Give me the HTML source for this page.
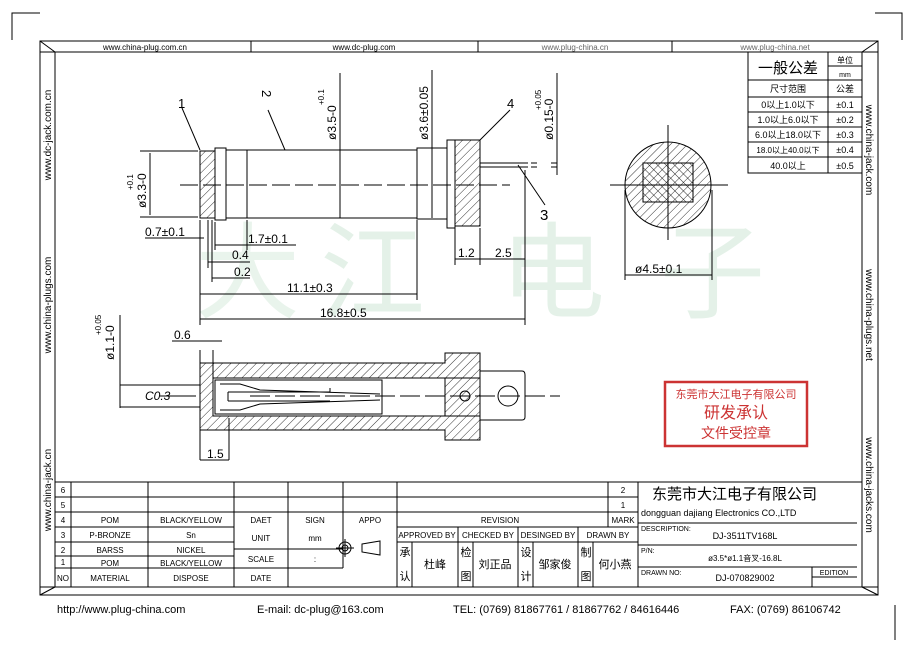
<!DOCTYPE html>
<html><head><meta charset="utf-8"><style>
html,body{margin:0;padding:0;background:#fff;}
svg{display:block;}
text{font-family:"Liberation Sans","Noto Sans CJK SC",sans-serif;fill:#000;}
.m{font-family:"Liberation Mono","Noto Sans CJK SC",monospace;}
</style></head><body>
<svg width="914" height="647" viewBox="0 0 914 647" xmlns="http://www.w3.org/2000/svg">
<defs>
<pattern id="h" width="6" height="6" patternUnits="userSpaceOnUse" patternTransform="rotate(45)">
<line x1="0" y1="0" x2="0" y2="6" stroke="#000" stroke-width="0.8"/></pattern>
<pattern id="x" width="6" height="6" patternUnits="userSpaceOnUse" patternTransform="rotate(-45)">
<line x1="0" y1="0" x2="0" y2="6" stroke="#000" stroke-width="0.8"/></pattern>
</defs>
<!-- watermark -->
<g font-size="105" style="font-family:'Noto Serif CJK SC',serif">
<text x="195" y="310" style="fill:#e9f4ec">大</text><text x="320" y="310" style="fill:#e4f1e8">江</text>
<text x="500" y="310" style="fill:#e4f1e8">电</text><text x="660" y="310" style="fill:#e4f1e8">子</text></g>
<g stroke="#000" fill="none" stroke-width="1">
<!-- corner marks -->
<path d="M12 40 V13 H40 M875 13 H902 V40 M895 605 V640"/>
<!-- frame -->
<rect x="40" y="41" width="838" height="554"/>
<path d="M40 52 H878 M55 52 V587 M862 52 V587 M40 587 H878"/>
<path d="M40 41 L55 52 M878 41 L862 52 M40 595 L55 587 M878 595 L862 587"/>
<path d="M251 41 V52 M478 41 V52 M672 41 V52"/>
<!-- tolerance table -->
<path d="M748 52 V173 H862 M748 80 H862 M828 52 V173 M828 66 H862 M748 97 H862 M748 112 H862 M748 127 H862 M748 142 H862 M748 157 H862"/>
<!-- title block -->
<path d="M55 482 H862 M55 497 H638 M55 512 H638 M55 527 H234 M397 527 H638 M55 542 H234 M55 556 H234 M55 568 H343 M234 549 H343"/>
<path d="M71 482 V587 M148 482 V587 M234 482 V587 M288 482 V527 M343 482 V527 M397 482 V587 M608 482 V527 M638 482 V587"/>
<path d="M288 527 V587 M343 527 V568 M412 542 V587 M458 527 V587 M473 542 V587 M518 527 V587 M533 542 V587 M578 527 V587 M593 542 V587 M397 542 H638"/>
<path d="M638 523 H857 M638 545 H857 M638 567 H857 M812 567 V587 M812 577 H857"/>
<circle cx="345" cy="548" r="6"/><circle cx="345" cy="548" r="3"/><path d="M336 548 H354 M345 539 V557 M362 544 L380 541 V555 L362 552 Z"/>
<!-- top view -->
<path d="M180 185 H510" stroke-dasharray="18 5"/>
<rect x="200" y="151" width="15" height="67" fill="url(#h)"/>
<rect x="215" y="148" width="11" height="72"/>
<path d="M226 150 L247 150 M226 218 L247 218 M247 150 V218 M226 150 V218"/>
<rect x="247" y="150" width="170" height="68"/>
<rect x="417" y="148" width="30" height="71"/>
<rect x="447" y="140" width="8" height="88"/>
<rect x="455" y="140" width="25" height="86" fill="url(#h)"/>
<path d="M480 163 H528 M480 167 H528 M531 163 H537 M531 167 H537"/>
<!-- top dims -->
<path d="M150 153 V215 M140 151 H198 M140 217 H198 M340 73 V218 M432 70 V218 M557 73 V175 M551 163 H557 M551 167 H557"/>
<path d="M182 108 L200 150 M268 110 L285 150 M510 110 L480 140 M518 165 L545 205"/>
<path d="M200 220 V325 M208 220 V268 M212 220 V282 M215 222 V250 M247 220 V250 M417 220 V300 M455 228 V265 M480 228 V265 M525 170 V325"/>
<path d="M145 238 H204 M215 245 H296 M208 262 H250 M212 278 H250 M200 294 H417 M200 319 H525 M455 259 H525"/>
<!-- circle section -->
<circle cx="668" cy="185" r="43" fill="url(#h)"/>
<rect x="643" y="163" width="50" height="39" fill="#fff"/>
<rect x="643" y="163" width="50" height="39" fill="url(#x)"/>
<rect x="643" y="163" width="50" height="39" fill="url(#h)"/>
<path d="M668 125 V240 M610 185 H728 M625 190 V280 M712 190 V280 M625 275 H712"/>
<!-- bottom view -->
<path d="M120 315 V408 M120 385 H200 M120 407 H200 M172 341 H222 M200 350 V460 M213 350 V380 M200 460 H229 M229 418 V460 M196 396 L160 396"/>
<path d="M200 363 H445 V353 H480 V440 H445 V430 H200 Z" fill="url(#h)"/>
<rect x="213" y="378" width="232" height="38" fill="#fff"/>
<path d="M445 378 H480 M445 416 H480"/>
<path d="M213 378 H445 M213 416 H445" />
<rect x="215" y="380" width="167" height="34"/>
<path d="M220 384 L240 384 L260 390 L380 394 M220 410 L240 410 L260 404 L380 400 M228 392 H330 L330 388 M228 401 H330 M228 392 V401"/>
<path d="M480 371 H522 Q525 371 525 375 V417 Q525 420 522 420 H480"/>
<circle cx="508" cy="396" r="10"/><circle cx="465" cy="396" r="5"/>
<path d="M250 396 H560" stroke-dasharray="20 5"/>
</g>
<!-- stamp -->
<rect x="665" y="382" width="142" height="64" fill="none" stroke="#c33" stroke-width="2.5"/>
<g style="font-family:'Noto Serif CJK SC',serif" text-anchor="middle">
<text x="736" y="398" font-size="11" style="fill:#c33">东莞市大江电子有限公司</text>
<text x="736" y="418" font-size="16" style="fill:#c33">研发承认</text>
<text x="736" y="438" font-size="14" style="fill:#c33">文件受控章</text></g>
<!-- top strip texts -->
<g class="m" font-size="8" text-anchor="middle">
<text x="145" y="50">www.china-plug.com.cn</text><text x="364" y="50">www.dc-plug.com</text>
<text x="575" y="50" style="fill:#666">www.plug-china.cn</text><text x="775" y="50" style="fill:#666">www.plug-china.net</text></g>
<!-- side texts -->
<g font-size="10" text-anchor="middle">
<text transform="translate(51,135) rotate(-90)">www.dc-jack.com.cn</text>
<text transform="translate(51,305) rotate(-90)">www.china-plugs.com</text>
<text transform="translate(51,490) rotate(-90)">www.china-jack.cn</text>
<text transform="translate(866,150) rotate(90)">www.china-jack.com</text>
<text transform="translate(866,315) rotate(90)">www.china-plugs.net</text>
<text transform="translate(866,485) rotate(90)">www.china-jacks.com</text></g>
<!-- tolerance text -->
<g font-size="9" text-anchor="middle" class="m">
<text x="788" y="73" font-size="15">一般公差</text><text x="845" y="63" font-size="8">单位</text><text x="845" y="77" font-size="7">mm</text>
<text x="788" y="92">尺寸范围</text><text x="845" y="92">公差</text>
<text x="788" y="108">0以上1.0以下</text><text x="845" y="108">±0.1</text>
<text x="788" y="123">1.0以上6.0以下</text><text x="845" y="123">±0.2</text>
<text x="788" y="138">6.0以上18.0以下</text><text x="845" y="138">±0.3</text>
<text x="788" y="153" font-size="8">18.0以上40.0以下</text><text x="845" y="153">±0.4</text>
<text x="788" y="169">40.0以上</text><text x="845" y="169">±0.5</text></g>
<!-- drawing texts -->
<g font-size="13">
<text x="178" y="108">1</text><text x="258" y="100" transform="rotate(90 265 97)">2</text><text x="507" y="108">4</text><text x="540" y="220" font-size="15">3</text>
<text x="145" y="236" font-size="12">0.7±0.1</text><text x="248" y="243" font-size="12">1.7±0.1</text>
<text x="232" y="259" font-size="12">0.4</text><text x="234" y="276" font-size="12">0.2</text>
<text x="287" y="292" font-size="12">11.1±0.3</text><text x="320" y="317" font-size="12">16.8±0.5</text>
<text x="458" y="257" font-size="12">1.2</text><text x="495" y="257" font-size="12">2.5</text>
<text x="635" y="273" font-size="12">ø4.5±0.1</text>
<text x="174" y="339" font-size="12">0.6</text><text x="145" y="400" font-size="12" font-style="italic">C0.3</text>
<text x="207" y="458" font-size="12">1.5</text>
<text transform="translate(146,208) rotate(-90)" font-size="12">ø3.3-0</text><text transform="translate(133,190) rotate(-90)" font-size="8">+0.1</text>
<text transform="translate(336,140) rotate(-90)" font-size="12">ø3.5-0</text><text transform="translate(324,105) rotate(-90)" font-size="8">+0.1</text>
<text transform="translate(428,140) rotate(-90)" font-size="12">ø3.6±0.05</text>
<text transform="translate(553,140) rotate(-90)" font-size="12">ø0.15-0</text><text transform="translate(541,110) rotate(-90)" font-size="8">+0.05</text>
<text transform="translate(114,360) rotate(-90)" font-size="12">ø1.1-0</text><text transform="translate(101,335) rotate(-90)" font-size="8">+0.05</text>
</g>
<!-- title block texts -->
<g class="m" font-size="8" text-anchor="middle">
<text x="63" y="493">6</text><text x="63" y="508">5</text><text x="63" y="523">4</text><text x="63" y="538">3</text><text x="63" y="553">2</text><text x="63" y="565">1</text><text x="63" y="581">NO</text>
<text x="110" y="523">POM</text><text x="110" y="538">P-BRONZE</text><text x="110" y="553">BARSS</text><text x="110" y="566">POM</text><text x="110" y="581">MATERIAL</text>
<text x="191" y="523">BLACK/YELLOW</text><text x="191" y="538">Sn</text><text x="191" y="553">NICKEL</text><text x="191" y="566">BLACK/YELLOW</text><text x="191" y="581">DISPOSE</text>
<text x="261" y="523">DAET</text><text x="315" y="523">SIGN</text><text x="370" y="523">APPO</text>
<text x="261" y="541">UNIT</text><text x="315" y="541">mm</text><text x="261" y="562">SCALE</text><text x="315" y="562">:</text><text x="261" y="581">DATE</text>
<text x="500" y="523">REVISION</text><text x="623" y="493">2</text><text x="623" y="508">1</text><text x="623" y="523">MARK</text>
<text x="427" y="538">APPROVED BY</text><text x="488" y="538">CHECKED BY</text><text x="548" y="538">DESINGED BY</text><text x="608" y="538">DRAWN BY</text>
<g font-size="11"><text x="405" y="556">承</text><text x="405" y="580">认</text><text x="435" y="568">杜峰</text>
<text x="466" y="556">检</text><text x="466" y="580">图</text><text x="495" y="568">刘正品</text>
<text x="526" y="556">设</text><text x="526" y="580">计</text><text x="555" y="568">邹家俊</text>
<text x="586" y="556">制</text><text x="586" y="580">图</text><text x="615" y="568">何小燕</text></g>
</g>
<g class="m">
<text x="652" y="499" font-size="15">东莞市大江电子有限公司</text>
<text x="641" y="516" font-size="9">dongguan dajiang Electronics CO.,LTD</text>
<text x="641" y="531" font-size="7">DESCRIPTION:</text><text x="745" y="539" font-size="9" text-anchor="middle">DJ-3511TV168L</text>
<text x="641" y="553" font-size="7">P/N:</text><text x="745" y="561" font-size="8" text-anchor="middle">ø3.5*ø1.1音叉-16.8L</text>
<text x="641" y="575" font-size="7">DRAWN NO:</text><text x="745" y="581" font-size="9" text-anchor="middle">DJ-070829002</text>
<text x="834" y="575" font-size="7" text-anchor="middle">EDITION</text></g>
<!-- footer -->
<g font-size="11">
<text x="57" y="613">http://www.plug-china.com</text><text x="257" y="613">E-mail: dc-plug@163.com</text>
<text x="453" y="613">TEL: (0769) 81867761 / 81867762 / 84616446</text><text x="730" y="613">FAX: (0769) 86106742</text></g>
</svg>
</body></html>
